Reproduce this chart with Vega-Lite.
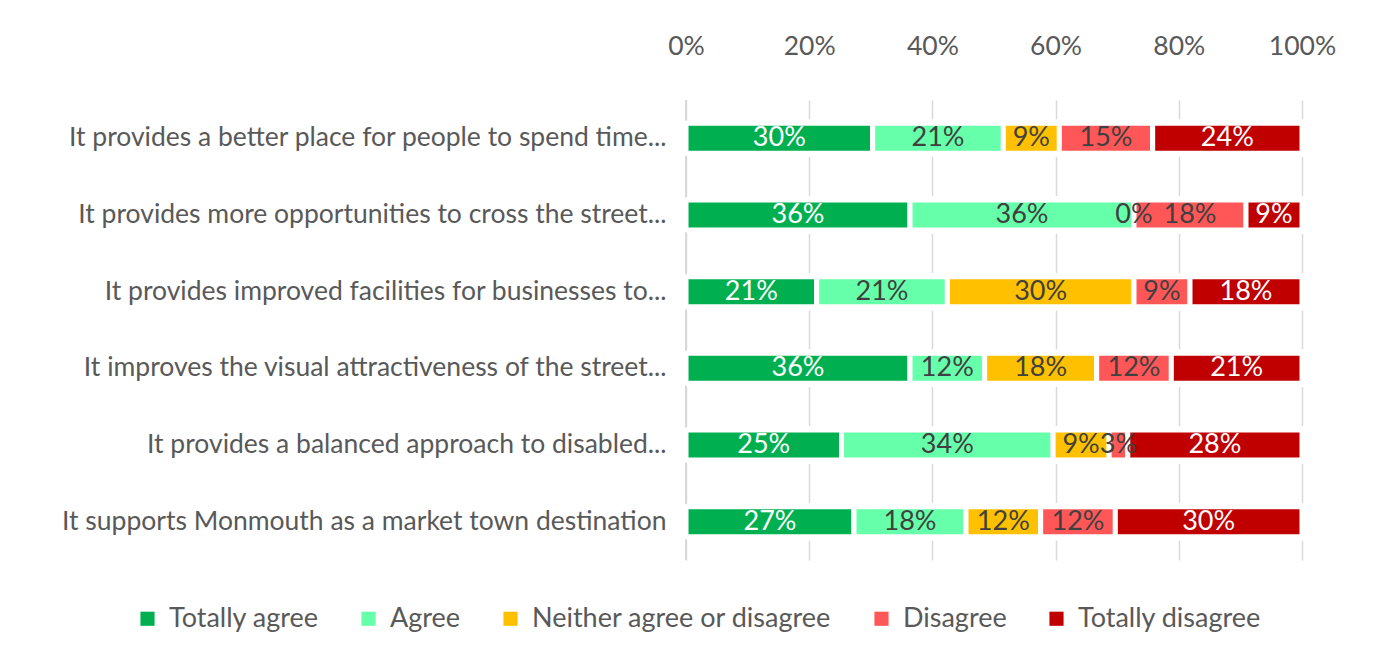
{
  "$schema": "https://vega.github.io/schema/vega-lite/v6.json",
  "width": 616,
  "height": 460,
  "autosize": {"type": "none"},
  "padding": {"left": 686, "top": 100, "right": 90, "bottom": 97},
  "background": "white",
  "config": {
    "view": {"stroke": null},
    "font": "Lato",
    "axisX": {"labelFontSize": 26.5, "labelColor": "#595959", "labelFont": "Lato", "gridColor": "#d9d9d9", "gridWidth": 1.5, "labelFlush": false, "labelOverlap": false, "labelBound": false},
    "axisY": {"labelFontSize": 26.5, "labelColor": "#595959", "labelFont": "Lato"}
  },
  "data": {
    "values": [
      {"statement": "It provides a better place for people to spend time...", "response": "Totally agree", "rank": 1, "share": 0.30},
      {"statement": "It provides a better place for people to spend time...", "response": "Agree", "rank": 2, "share": 0.21},
      {"statement": "It provides a better place for people to spend time...", "response": "Neither agree or disagree", "rank": 3, "share": 0.09},
      {"statement": "It provides a better place for people to spend time...", "response": "Disagree", "rank": 4, "share": 0.15},
      {"statement": "It provides a better place for people to spend time...", "response": "Totally disagree", "rank": 5, "share": 0.24},
      {"statement": "It provides more opportunities to cross the street...", "response": "Totally agree", "rank": 1, "share": 0.36},
      {"statement": "It provides more opportunities to cross the street...", "response": "Agree", "rank": 2, "share": 0.36},
      {"statement": "It provides more opportunities to cross the street...", "response": "Neither agree or disagree", "rank": 3, "share": 0.0},
      {"statement": "It provides more opportunities to cross the street...", "response": "Disagree", "rank": 4, "share": 0.18},
      {"statement": "It provides more opportunities to cross the street...", "response": "Totally disagree", "rank": 5, "share": 0.09},
      {"statement": "It provides improved facilities for businesses to...", "response": "Totally agree", "rank": 1, "share": 0.21},
      {"statement": "It provides improved facilities for businesses to...", "response": "Agree", "rank": 2, "share": 0.21},
      {"statement": "It provides improved facilities for businesses to...", "response": "Neither agree or disagree", "rank": 3, "share": 0.30},
      {"statement": "It provides improved facilities for businesses to...", "response": "Disagree", "rank": 4, "share": 0.09},
      {"statement": "It provides improved facilities for businesses to...", "response": "Totally disagree", "rank": 5, "share": 0.18},
      {"statement": "It improves the visual attractiveness of the street...", "response": "Totally agree", "rank": 1, "share": 0.36},
      {"statement": "It improves the visual attractiveness of the street...", "response": "Agree", "rank": 2, "share": 0.12},
      {"statement": "It improves the visual attractiveness of the street...", "response": "Neither agree or disagree", "rank": 3, "share": 0.18},
      {"statement": "It improves the visual attractiveness of the street...", "response": "Disagree", "rank": 4, "share": 0.12},
      {"statement": "It improves the visual attractiveness of the street...", "response": "Totally disagree", "rank": 5, "share": 0.21},
      {"statement": "It provides a balanced approach to disabled...", "response": "Totally agree", "rank": 1, "share": 0.25},
      {"statement": "It provides a balanced approach to disabled...", "response": "Agree", "rank": 2, "share": 0.34},
      {"statement": "It provides a balanced approach to disabled...", "response": "Neither agree or disagree", "rank": 3, "share": 0.09},
      {"statement": "It provides a balanced approach to disabled...", "response": "Disagree", "rank": 4, "share": 0.03},
      {"statement": "It provides a balanced approach to disabled...", "response": "Totally disagree", "rank": 5, "share": 0.28},
      {"statement": "It supports Monmouth as a market town destination", "response": "Totally agree", "rank": 1, "share": 0.27},
      {"statement": "It supports Monmouth as a market town destination", "response": "Agree", "rank": 2, "share": 0.18},
      {"statement": "It supports Monmouth as a market town destination", "response": "Neither agree or disagree", "rank": 3, "share": 0.12},
      {"statement": "It supports Monmouth as a market town destination", "response": "Disagree", "rank": 4, "share": 0.12},
      {"statement": "It supports Monmouth as a market town destination", "response": "Totally disagree", "rank": 5, "share": 0.30}
    ]
  },
  "layer": [
    {
      "mark": {"type": "bar", "color": "white", "size": 37},
      "encoding": {
        "y": {"field": "statement", "type": "nominal", "sort": null, "title": null,
              "scale": {"paddingInner": 0, "paddingOuter": 0},
              "axis": {"ticks": false, "domain": false, "labelPadding": 20, "labelLimit": 700}},
        "x": {"datum": 0, "type": "quantitative", "title": null,
              "scale": {"domain": [0, 1], "nice": false},
              "axis": {"orient": "top", "format": ".0%", "values": [0, 0.2, 0.4, 0.6, 0.8, 1], "grid": true, "ticks": false, "domain": false, "labelPadding": 40}},
        "x2": {"datum": 1.008}
      }
    },
    {
      "mark": {"type": "rule", "color": "#d9d9d9", "strokeWidth": 1.5},
      "encoding": {
        "x": {"datum": 0, "type": "quantitative", "title": null,
              "axis": {"orient": "top", "format": ".0%", "values": [0, 0.2, 0.4, 0.6, 0.8, 1], "grid": true, "ticks": false, "domain": false, "labelPadding": 40}}
      }
    },
    {
      "mark": {"type": "bar", "size": 30, "stroke": "white", "strokeWidth": 5},
      "encoding": {
        "y": {"field": "statement", "type": "nominal", "sort": null, "title": null},
        "x": {"field": "share", "type": "quantitative", "stack": "normalize", "title": null,
              "axis": {"orient": "top", "format": ".0%", "values": [0, 0.2, 0.4, 0.6, 0.8, 1], "grid": true, "ticks": false, "domain": false, "labelPadding": 40}},
        "order": {"field": "rank", "type": "quantitative"},
        "color": {
          "field": "response", "type": "nominal",
          "scale": {
            "domain": ["Totally agree", "Agree", "Neither agree or disagree", "Disagree", "Totally disagree"],
            "range": ["#00B050", "#66FFAA", "#FFC000", "#FF5757", "#C00000"]
          },
          "legend": {
            "title": null, "orient": "none", "direction": "horizontal",
            "legendX": -552, "legendY": 505,
            "symbolType": "square", "symbolSize": 200, "symbolStrokeWidth": 0,
            "labelFontSize": 27, "labelColor": "#595959", "labelFont": "Lato",
            "labelOffset": 8, "columnPadding": 36, "labelLimit": 400
          }
        }
      }
    },
    {
      "mark": {"type": "text", "fontSize": 27, "font": "Lato"},
      "encoding": {
        "y": {"field": "statement", "type": "nominal", "sort": null, "title": null},
        "x": {"field": "share", "type": "quantitative", "stack": "normalize", "bandPosition": 0.5, "title": null,
              "axis": {"orient": "top", "format": ".0%", "values": [0, 0.2, 0.4, 0.6, 0.8, 1], "grid": true, "ticks": false, "domain": false, "labelPadding": 40}},
        "order": {"field": "rank", "type": "quantitative"},
        "detail": {"field": "response"},
        "text": {"field": "share", "type": "quantitative", "format": ".0%"},
        "color": {
          "condition": {"test": "datum.response === 'Totally agree' || datum.response === 'Totally disagree'", "value": "white"},
          "value": "#404040"
        }
      }
    }
  ]
}
